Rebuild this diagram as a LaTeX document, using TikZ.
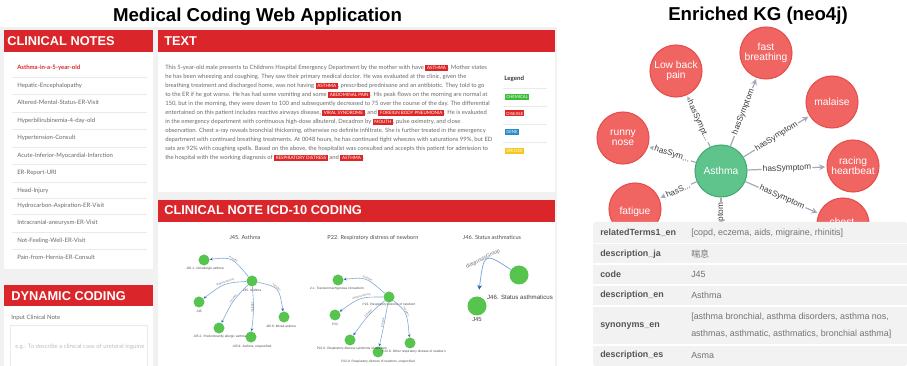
\documentclass[tikz,border=0pt]{standalone}
\usepackage{fontspec}
\setmainfont{Liberation Sans}
\newfontfamily\uifont{Lato}
\newfontfamily\jafont{Noto Sans CJK JP}
\usetikzlibrary{arrows.meta}
\definecolor{hdrred}{RGB}{218,37,42}
\definecolor{pagegray}{RGB}{241,241,241}
\definecolor{sepgray}{RGB}{234,234,234}
\definecolor{txtgray}{RGB}{105,105,105}
\definecolor{entred}{RGB}{222,38,38}
\definecolor{chemgreen}{RGB}{60,190,60}
\definecolor{geneblue}{RGB}{40,140,200}
\definecolor{specyellow}{RGB}{245,200,30}
\definecolor{nodegreen}{RGB}{88,196,80}
\definecolor{edgeblue}{RGB}{130,170,215}
\definecolor{tipblue}{RGB}{40,100,190}
\definecolor{kgred}{RGB}{240,100,98}
\definecolor{kgredb}{RGB}{228,78,76}
\definecolor{kggreen}{RGB}{95,195,140}
\definecolor{kggreenb}{RGB}{70,168,115}
\definecolor{kgedge}{RGB}{165,171,182}
\definecolor{kglabel}{RGB}{60,60,60}
\definecolor{tblgray}{RGB}{242,242,242}
\definecolor{keygray}{RGB}{85,85,85}
\definecolor{valgray}{RGB}{115,115,115}
\newcommand\ent[1]{{\setlength\fboxsep{0.4pt}\colorbox{entred}{\hspace{0.8pt}\color{white}\fontsize{3.4}{3.4}\selectfont\rule[-1pt]{0pt}{3.6pt}#1\hspace{0.8pt}}}}
\begin{document}
\begin{tikzpicture}[x=0.75pt,y=-0.75pt,
  ttl/.style={font=\bfseries\fontsize{14}{16}\selectfont, anchor=base, inner sep=0},
  hdrtxt/.style={font=\bfseries\fontsize{9.6}{10}\selectfont, text=white, anchor=base west, inner sep=0},
  item/.style={font=\uifont\fontsize{4.5}{5}\selectfont, text=txtgray, anchor=base west, inner sep=0},
  pl/.style={font=\uifont\fontsize{4.4}{5}\selectfont, text=txtgray, anchor=base west, inner sep=0},
  leg/.style={font=\uifont\fontsize{3.2}{3.2}\selectfont, text=white, anchor=west, inner sep=0.8pt, minimum height=4.5pt},
  sub/.style={font=\uifont\fontsize{4.2}{5}\selectfont, text=black!70, anchor=base, inner sep=0},
  gn/.style={circle, fill=nodegreen, minimum size=8.25pt, inner sep=0},
  gbig/.style={circle, fill=nodegreen, minimum size=14.25pt, inner sep=0},
  gl/.style={font=\fontsize{2.4}{2.6}\selectfont, text=black!70, inner sep=0},
  ge/.style={draw=edgeblue, line width=0.45pt, -{Stealth[length=2.2pt,width=2pt,color=tipblue]}},
  el/.style={font=\fontsize{2}{2.2}\selectfont, text=black!55, inner sep=0.3pt},
  kg/.style={circle, fill=kgred, draw=kgredb, line width=0.8pt, minimum size=39pt, inner sep=0, text=white, align=center, font=\fontsize{7.7}{7.6}\selectfont},
  kgc/.style={kg, fill=kggreen, draw=kggreenb},
  kge/.style={draw=kgedge, line width=0.9pt, -{Stealth[length=4.5pt,width=4.5pt]}, shorten >=1pt},
  kgl/.style={fill=white, text=kglabel, font=\fontsize{6.2}{6.2}\selectfont, inner sep=1pt},
  key/.style={font=\bfseries\fontsize{6.7}{7}\selectfont, text=keygray, anchor=west, inner sep=0},
  val/.style={font=\fontsize{6.7}{7}\selectfont, text=valgray, anchor=west, inner sep=0}
]
\useasboundingbox (0,0) rectangle (907,366);
\fill[white] (0,0) rectangle (907,366);

% ---------- titles
\node[ttl] (title1) at (257.5,22) {Medical Coding Web Application};
\node[ttl] (title2) at (758,21) {Enriched KG (neo4j)};

% ---------- web app background and panels
\fill[pagegray] (0,27) rectangle (557,366);
\fill[white] (4,52) rectangle (153,269);
\fill[white] (158,52) rectangle (555,192);
\fill[white] (158,222) rectangle (555,366);
\fill[white] (4,306) rectangle (153,366);
\fill[hdrred] (4,30) rectangle (153,52);
\fill[hdrred] (158,30) rectangle (555,52);
\fill[hdrred] (158,200) rectangle (555,222);
\fill[hdrred] (4,285) rectangle (153,306);
\node[hdrtxt] (hCN) at (7,46) {CLINICAL NOTES};
\node[hdrtxt] (hTX) at (164,46) {TEXT};
\node[hdrtxt] (hICD) at (164,215) {CLINICAL NOTE ICD-10 CODING};
\node[hdrtxt] (hDC) at (11,301) {DYNAMIC CODING};

% ---------- clinical notes list
\foreach \yy in {77,94.5,112,129.5,147,164.5,182,198.5,214.5,232,249.5}
  \draw[sepgray, line width=0.4pt] (12,\yy) -- (147,\yy);
\node[item, text=hdrred, font=\uifont\bfseries\fontsize{4.5}{5}\selectfont] (i1) at (17,69.5) {Asthma-in-a-5-year-old};
\node[item] (i2) at (17,87.5) {Hepatic-Encephalopathy};
\node[item] (i3) at (17,104.5) {Altered-Mental-Status-ER-Visit};
\node[item] (i4) at (17,122.5) {Hyperbilirubinemia-4-day-old};
\node[item] (i5) at (17,139.5) {Hypertension-Consult};
\node[item] (i6) at (17,157.5) {Acute-Inferior-Myocardial-Infarction};
\node[item] (i7) at (17,174.5) {ER-Report-URI};
\node[item] (i8) at (17,192.5) {Head-Injury};
\node[item] (i9) at (17,207.5) {Hydrocarbon-Aspiration-ER-Visit};
\node[item] (i10) at (17,224.5) {Intracranial-aneurysm-ER-Visit};
\node[item] (i11) at (17,242.5) {Not-Feeling-Well-ER-Visit};
\node[item] (i12) at (17,259.5) {Pain-from-Hernia-ER-Consult};

% ---------- dynamic coding
\node[item] (inlbl) at (11,319.5) {Input Clinical Note};
\draw[sepgray, fill=white, line width=0.5pt] (10,325) rectangle (147,367);
\node[item, text=black!25] (ph) at (15,348.5) {e.g.: To describe a clinical case of ureteral inguine};

% ---------- text paragraph
\node[pl] (p1) at (165,69.5) {This 5-year-old male presents to Childrens Hospital Emergency Department by the mother with have \ent{ASTHMA}. Mother states};
\node[pl] (p2) at (165,78.5) {he has been wheezing and coughing. They saw their primary medical doctor. He was evaluated at the clinic, given the};
\node[pl] (p3) at (165,87.5) {breathing treatment and discharged home, was not having \ent{ASTHMA}, prescribed prednisone and an antibiotic. They told to go};
\node[pl] (p4) at (165,96.5) {to the ER if he got worse. He has had some vomiting and some \ent{ABDOMINAL PAIN}. His peak flows on the morning are normal at};
\node[pl] (p5) at (165,105.5) {150, but in the morning, they were down to 100 and subsequently decreased to 75 over the course of the day. The differential};
\node[pl] (p6) at (165,114.5) {entertained on this patient includes reactive airways disease, \ent{VIRAL SYNDROME}, and \ent{FOREIGN BODY PNEUMONIA}. He is evaluated};
\node[pl] (p7) at (165,123.5) {in the emergency department with continuous high-dose albuterol, Decadron by \ent{MOUTH}, pulse oximetry, and close};
\node[pl] (p8) at (165,132.5) {observation. Chest x-ray reveals bronchial thickening, otherwise no definite infiltrate. She is further treated in the emergency};
\node[pl] (p9) at (165,141.5) {department with continued breathing treatments. At 0048 hours, he has continued tight wheezes with saturations 99\%, but ED};
\node[pl] (p10) at (165,150.5) {sats are 92\% with coughing spells. Based on the above, the hospitalist was consulted and accepts this patient for admission to};
\node[pl] (p11) at (165,159.5) {the hospital with the working diagnosis of \ent{RESPIRATORY DISTRESS} and \ent{ASTHMA}.};

% ---------- legend
\node[font=\uifont\bfseries\fontsize{4.6}{5}\selectfont, anchor=base west, inner sep=0, text=black!80] (legt) at (504,80.5) {Legend};
\foreach \yy in {88,106,124,142}
  \draw[sepgray, line width=0.4pt] (503,\yy) -- (547,\yy);
\node[leg, fill=chemgreen] (lg1) at (505,97) {CHEMICAL};
\node[leg, fill=entred] (lg2) at (505,113.5) {DISEASE};
\node[leg, fill=geneblue] (lg3) at (505,132) {GENE};
\node[leg, fill=specyellow] (lg4) at (505,151) {SPECIES};

% ---------- ICD-10 sub titles
\node[sub] (s1) at (245,240) {J45. Asthma};
\node[sub] (s2) at (373,240) {P22. Respiratory distress of newborn};
\node[sub] (s3) at (492,240) {J46. Status asthmaticus};

% ---------- J45 graph
\node[gn] (c45) at (252,281) {};
\node[gn] (n451) at (204,260) {};
\node[gn] (n45) at (199,302) {};
\node[gn] (n452) at (219,328) {};
\node[gn] (n459) at (251,337) {};
\node[gn] (n458) at (284,317) {};
\draw[ge] (c45) .. controls (232,257) .. (n451) node[el, pos=0.45, sloped, above] (e1) {Includes};
\draw[ge] (c45) .. controls (224,283) .. (n45) node[el, pos=0.45, sloped, above] (e2) {diagnosisGroup};
\draw[ge] (c45) .. controls (233,300) .. (n452) node[el, pos=0.45, sloped, above] (e3) {Includes};
\draw[ge] (c45) .. controls (254,309) .. (n459) node[el, pos=0.45, sloped, above] (e4) {Includes};
\draw[ge] (c45) .. controls (279,287) .. (n458) node[el, pos=0.45, sloped, above] (e5) {Includes};
\node[gl] (c45l) at (252,290) {J45. Asthma};
\node[gl] (n451l) at (205,269) {J45.1. Nonallergic asthma};
\node[gl] (n45l) at (199,311) {J45};
\node[gl] (n452l) at (220,337) {J45.2. Predominantly allergic asthma};
\node[gl] (n459l) at (252,346.5) {J45.9. Asthma, unspecified};
\node[gl] (n458l) at (281,326) {J45.8. Mixed asthma};

% ---------- P22 graph
\node[gn] (c22) at (389,297) {};
\node[gn] (p221) at (338,280) {};
\node[gn] (p22) at (335,315) {};
\node[gn] (p220) at (350,340) {};
\node[gn] (p229) at (378,352) {};
\node[gn] (p228) at (410,343) {};
\draw[ge] (c22) .. controls (366,277) .. (p221) node[el, pos=0.45, sloped, above] (f1) {Includes};
\draw[ge] (c22) .. controls (360,297) .. (p22) node[el, pos=0.45, sloped, above] (f2) {diagnosisGroup};
\draw[ge] (c22) .. controls (368,315) .. (p220) node[el, pos=0.45, sloped, above] (f3) {Includes};
\draw[ge] (c22) .. controls (384,325) .. (p229) node[el, pos=0.45, sloped, above] (f4) {Includes};
\draw[ge] (c22) .. controls (407,312) .. (p228) node[el, pos=0.45, sloped, above] (f5) {Includes};
\node[gl] (c22l) at (389,304.5) {P22. Respiratory distress of newborn};
\node[gl] (p221l) at (337,289) {2.1. Transient tachypnoea of newborn};
\node[gl] (p22l) at (335,324) {P22};
\node[gl] (p220l) at (352,348.5) {P22.0. Respiratory distress syndrome of newborn};
\node[gl] (p229l) at (378,361.5) {P22.9. Respiratory distress of newborn, unspecified};
\node[gl] (p228l) at (414,351.5) {P22.8. Other respiratory distress of newborn};

% ---------- J46 graph
\node[gbig] (j46) at (519,275) {};
\node[gbig] (j45b) at (477,306) {};
\draw[draw=edgeblue, line width=0.6pt, -{Stealth[length=3.5pt,width=3.5pt,color=tipblue]}, shorten >=5pt]
  (j46) .. controls (484,252) .. (j45b);
\node[font=\fontsize{4}{4}\selectfont, text=black!55, inner sep=0.5pt, rotate=27] (g1) at (483,259) {diagnosisGroup};
\node[font=\fontsize{4.6}{5}\selectfont, text=black!75, inner sep=0] (j46l) at (520,297) {J46. Status asthmaticus};
\node[font=\fontsize{4.4}{5}\selectfont, text=black!75, inner sep=0] (j45bl) at (477,319.5) {J45};

% ---------- knowledge graph
\node[kgc] (A) at (721,171) {Asthma};
\node[kg] (FB) at (766,53) {fast\\breathing};
\node[kg] (LBP) at (676,71) {Low back\\pain};
\node[kg] (MAL) at (832,102) {malaise};
\node[kg] (RN) at (623,138) {runny\\nose};
\node[kg] (RH) at (853,166) {racing\\heartbeat};
\node[kg] (FAT) at (635,209) {};
\node[kg] (CH) at (843,224) {};
\coordinate (BOT) at (721,300);
\node[text=white, font=\fontsize{7.7}{8}\selectfont, inner sep=0] (FATt) at (635,212) {fatigue};
\node[text=white, font=\fontsize{7.7}{8}\selectfont, inner sep=0] (CHt) at (842,222) {chest};
\draw[kge] (A) -- node[kgl, sloped] (k1) {hasSymptom} (FB);
\draw[kge] (A) -- node[kgl, sloped] (k2) {hasSympt...} (LBP);
\draw[kge] (A) -- node[kgl, sloped] (k3) {hasSymptom} (MAL);
\draw[kge] (A) -- node[kgl, sloped] (k4) {hasSym...} (RN);
\draw[kge] (A) -- node[kgl, sloped] (k5) {hasSymptom} (RH);
\draw[kge] (A) -- node[kgl, sloped] (k6) {hasS...} (FAT);
\draw[kge] (A) -- node[kgl, sloped] (k7) {hasSymptom} (CH);
\draw[kge] (A) -- (BOT);
\node[kgl, rotate=90] (k8) at (721,227) {hasSymptom};

% ---------- property table
\fill[tblgray, rounded corners=2pt] (593,222) rectangle (907,366);
\foreach \yy in {243.5,264,285,306,345}
  \draw[white, line width=0.8pt] (593,\yy) -- (907,\yy);
\node[key] (r1k) at (600,233) {relatedTerms1\_en};
\node[val] (r1v) at (691,233) {[copd, eczema, aids, migraine, rhinitis]};
\node[key] (r2k) at (600,254) {description\_ja};
\node[val, font=\jafont\fontsize{6.7}{7}\selectfont] (r2v) at (691,254) {喘息};
\node[key] (r3k) at (600,274.5) {code};
\node[val] (r3v) at (691,274.5) {J45};
\node[key] (r4k) at (600,295.5) {description\_en};
\node[val] (r4v) at (691,295.5) {Asthma};
\node[key] (r5k) at (600,326) {synonyms\_en};
\node[val] (r5v) at (691,317) {[asthma bronchial, asthma disorders, asthma nos,};
\node[val] (r5w) at (691,334) {asthmas, asthmatic, asthmatics, bronchial asthma]};
\node[key] (r6k) at (600,355) {description\_es};
\node[val] (r6v) at (691,355) {Asma};
\end{tikzpicture}
\end{document}
